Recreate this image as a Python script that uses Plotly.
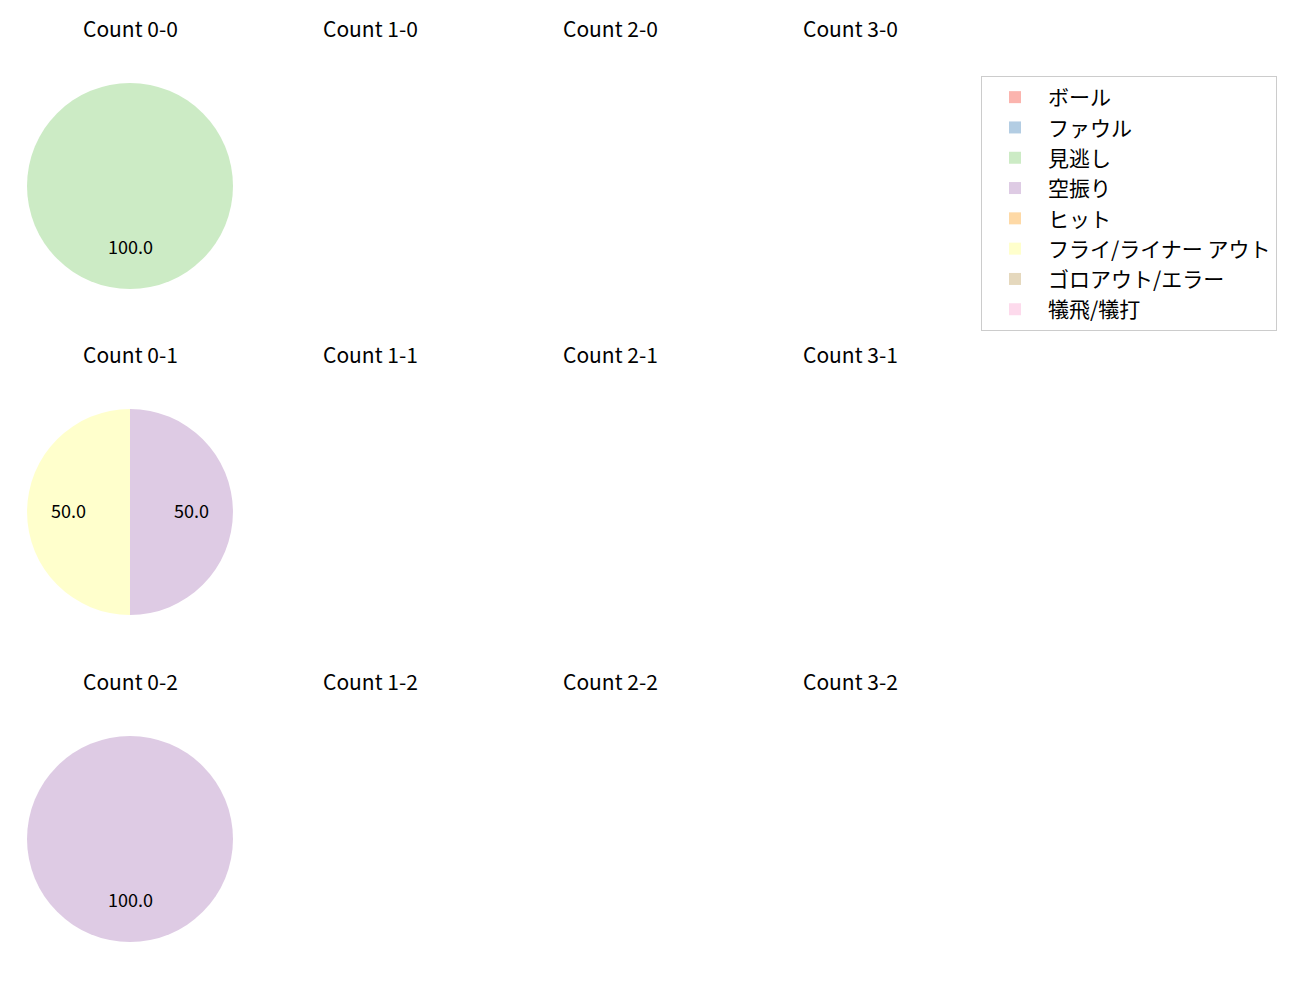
import math
import plotly.graph_objects as go

# ---- data ----
labels = ["ボール", "ファウル", "見逃し", "空振り", "ヒット",
          "フライ/ライナー アウト", "ゴロアウト/エラー", "犠飛/犠打"]
colors = ["#fbb4ae", "#b3cde3", "#ccebc5", "#decbe4",
          "#fed9a6", "#ffffcc", "#e5d8bd", "#fddaec"]
balls = [0, 1, 2, 3]
strikes = [0, 1, 2]
values_0_0 = [0, 0, 100.0, 0, 0, 0, 0, 0]
values_0_1 = [0, 0, 0, 50.0, 0, 50.0, 0, 0]
values_0_2 = [0, 0, 0, 100.0, 0, 0, 0, 0]
pie_data = {(0, 0): values_0_0, (0, 1): values_0_1, (0, 2): values_0_2}

# ---- layout (pixels, page coords; page body has an 8px margin) ----
W, H = 1300, 1000
OFF = 8
FONT = "Noto Sans CJK JP"
col_cx = [130, 370, 610, 850]
row_cy = [186, 512, 839]
R = 103
title_dy = -158


def px2x(px):
    return (px - OFF) / W


def py2y(py):
    return 1 - (py - OFF) / H


fig = go.Figure()
annotations = []
first = True
for si, s in enumerate(strikes):
    for bi, b in enumerate(balls):
        cx, cy = col_cx[bi], row_cy[si]
        annotations.append(dict(
            text=f"Count {b}-{s}", x=px2x(cx), y=py2y(cy + title_dy),
            xref="paper", yref="paper", showarrow=False,
            font=dict(family=FONT, size=21, color="#000000"),
            xanchor="center", yanchor="middle"))
        vals = pie_data.get((b, s))
        if vals is None:
            continue
        fig.add_trace(go.Pie(
            labels=labels, values=vals, sort=False, direction="clockwise",
            rotation=0, marker=dict(colors=colors, line=dict(width=0)),
            textinfo="none", hoverinfo="label+value", showlegend=first,
            domain=dict(x=[px2x(cx - R), px2x(cx + R)],
                        y=[py2y(cy + R), py2y(cy - R)])))
        first = False
        total = sum(vals)
        cum = 0.0
        for v in vals:
            if v <= 0:
                continue
            mid = cum + v / 2
            cum += v
            ang = math.radians(90 - 360 * mid / total)
            px = cx + 0.6 * R * math.cos(ang)
            py = cy - 0.6 * R * math.sin(ang) - 2
            annotations.append(dict(
                text=f"{100 * v / total:.1f}", x=px2x(px), y=py2y(py),
                xref="paper", yref="paper", showarrow=False,
                font=dict(family=FONT, size=18, color="#000000"),
                xanchor="center", yanchor="middle"))

fig.update_layout(
    width=W, height=H,
    margin=dict(l=0, r=0, t=0, b=0),
    paper_bgcolor="white", plot_bgcolor="white",
    font=dict(family=FONT, color="#000000"),
    annotations=annotations,
    legend=dict(x=px2x(981), y=py2y(76), xanchor="left", yanchor="top",
                bordercolor="#cccccc", borderwidth=1, bgcolor="white",
                font=dict(family=FONT, size=21, color="#000000"),
                traceorder="normal", itemwidth=56),
)
fig.write_html("out.html")
